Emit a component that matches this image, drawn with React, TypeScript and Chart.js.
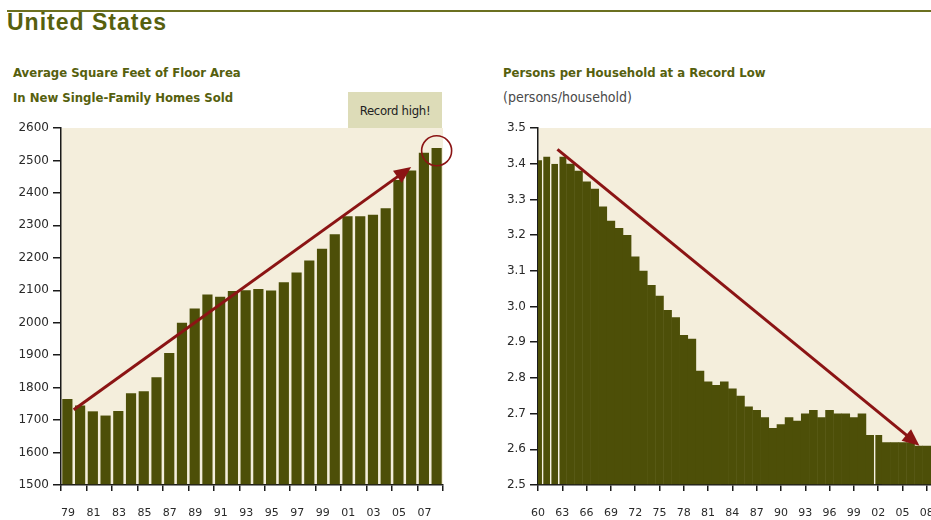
import React, { useEffect, useRef } from 'react';
import { Chart, registerables } from 'chart.js';

Chart.register(...registerables);

// ---------- Data: left chart (average square feet, new single-family homes sold) ----------
const floorYears = [
  1979, 1980, 1981, 1982, 1983, 1984, 1985, 1986, 1987, 1988,
  1989, 1990, 1991, 1992, 1993, 1994, 1995, 1996, 1997, 1998,
  1999, 2000, 2001, 2002, 2003, 2004, 2005, 2006, 2007, 2008,
];
const floorArea = [
  1765, 1745, 1727, 1714, 1728, 1783, 1789, 1832, 1907, 2000,
  2044, 2087, 2080, 2098, 2100, 2104, 2099, 2125, 2155, 2192,
  2228, 2273, 2328, 2328, 2333, 2353, 2440, 2469, 2524, 2538,
];
const floorXTickLabels = ['79', '81', '83', '85', '87', '89', '91', '93', '95', '97', '99', '01', '03', '05', '07'];
const floorYTicks = [1500, 1600, 1700, 1800, 1900, 2000, 2100, 2200, 2300, 2400, 2500, 2600];

// ---------- Data: right chart (persons per household) ----------
const hhYears = [
  1960, 1961, 1962, 1963, 1964, 1965, 1966, 1967, 1968, 1969,
  1970, 1971, 1972, 1973, 1974, 1975, 1976, 1977, 1978, 1979,
  1980, 1981, 1982, 1983, 1984, 1985, 1986, 1987, 1988, 1989,
  1990, 1991, 1992, 1993, 1994, 1995, 1996, 1997, 1998, 1999,
  2000, 2001, 2002, 2003, 2004, 2005, 2006, 2007, 2008,
];
const hhSize = [
  3.41, 3.42, 3.40, 3.42, 3.40, 3.38, 3.35, 3.33, 3.28, 3.24,
  3.22, 3.20, 3.14, 3.10, 3.06, 3.03, 2.99, 2.97, 2.92, 2.91,
  2.82, 2.79, 2.78, 2.79, 2.77, 2.75, 2.72, 2.71, 2.69, 2.66,
  2.67, 2.69, 2.68, 2.70, 2.71, 2.69, 2.71, 2.70, 2.70, 2.69,
  2.70, 2.64, 2.64, 2.62, 2.62, 2.62, 2.62, 2.61, 2.61,
];
const hhXTickYears = [1960, 1963, 1966, 1969, 1972, 1975, 1978, 1981, 1984, 1987, 1990, 1993, 1996, 1999, 2002, 2005, 2008];
const hhXTickLabels = ['60', '63', '66', '69', '72', '75', '78', '81', '84', '87', '90', '93', '96', '99', '02', '05', '08'];
const hhYTicks = [2.5, 2.6, 2.7, 2.8, 2.9, 3.0, 3.1, 3.2, 3.3, 3.4, 3.5];
const hhGapYears = [1961, 1962, 1963, 2002];

// ---------- Annotations (data units) ----------
const leftArrow = { x0: 1979.5, y0: 1732, x1: 2006, y1: 2480 };
const leftCircle = { x: 2008, y: 2530 };
const rightArrow = { x0: 1962.4, y0: 3.44, x1: 2007.1, y1: 2.61 };

// ---------- Styles ----------
const OLIVE_BAR = '#4d4f08';
const CREAM = '#f4eedc';
const RED = '#8b1414';
const AXIS = '#1a1a1a';
const TITLE_OLIVE = '#56600e';
const NARROW = '"Liberation Sans Narrow", "Arial Narrow", "DejaVu Sans Condensed", "DejaVu Sans", sans-serif';
const TICK_FONT = '"DejaVu Sans", Verdana, sans-serif';

type Arrow = { x0: number; y0: number; x1: number; y1: number };

function annotationPlugin(arrow: Arrow, circle?: { x: number; y: number }) {
  return {
    id: 'annot',
    beforeDraw(chart: any) {
      const { ctx, chartArea } = chart;
      ctx.save();
      ctx.fillStyle = CREAM;
      ctx.fillRect(chartArea.left, chartArea.top, chartArea.right - chartArea.left, chartArea.bottom - chartArea.top);
      ctx.restore();
    },
    afterDatasetsDraw(chart: any) {
      const { ctx } = chart;
      const xs = chart.scales.x;
      const ys = chart.scales.y;
      const px0 = xs.getPixelForValue(arrow.x0);
      const py0 = ys.getPixelForValue(arrow.y0);
      const px1 = xs.getPixelForValue(arrow.x1);
      const py1 = ys.getPixelForValue(arrow.y1);
      const dx = px1 - px0;
      const dy = py1 - py0;
      const len = Math.hypot(dx, dy);
      const ux = dx / len;
      const uy = dy / len;
      const headL = 17;
      const headW = 15;
      ctx.save();
      ctx.strokeStyle = RED;
      ctx.fillStyle = RED;
      ctx.lineWidth = 3;
      ctx.lineCap = 'butt';
      ctx.beginPath();
      ctx.moveTo(px0, py0);
      ctx.lineTo(px1 - ux * headL * 0.8, py1 - uy * headL * 0.8);
      ctx.stroke();
      const bx = px1 - ux * headL;
      const by = py1 - uy * headL;
      ctx.beginPath();
      ctx.moveTo(px1, py1);
      ctx.lineTo(bx - uy * headW / 2, by + ux * headW / 2);
      ctx.lineTo(bx + uy * headW / 2, by - ux * headW / 2);
      ctx.closePath();
      ctx.fill();
      if (circle) {
        const cx = xs.getPixelForValue(circle.x);
        const cy = ys.getPixelForValue(circle.y);
        ctx.lineWidth = 1.6;
        ctx.beginPath();
        ctx.arc(cx, cy, 15, 0, Math.PI * 2);
        ctx.stroke();
      }
      ctx.restore();
    },
  };
}

function yScale(min: number, max: number, ticks: number[], fmt: (v: number) => string, width: number) {
  return {
    type: 'linear',
    min,
    max,
    z: 1,
    afterBuildTicks: (s: any) => {
      s.ticks = ticks.map((v) => ({ value: v }));
    },
    afterFit: (s: any) => {
      s.width = width;
    },
    ticks: {
      callback: (v: any) => fmt(Number(v)),
      color: '#2a2a2a',
      font: { family: TICK_FONT, size: 12 },
      padding: 4,
      autoSkip: false,
    },
    grid: { drawOnChartArea: false, tickLength: 8, color: AXIS, lineWidth: 1.5 },
    border: { display: true, color: AXIS, width: 1.5 },
  };
}

function xScale(min: number, max: number, tickValues: number[], labels: string[], labelOffset: number) {
  return {
    type: 'linear',
    min,
    max,
    offset: false,
    z: 1,
    afterBuildTicks: (s: any) => {
      s.ticks = tickValues.map((v) => ({ value: v }));
    },
    afterFit: (s: any) => {
      s.height = 35;
    },
    ticks: {
      callback: (_v: any, i: number) => labels[i] ?? '',
      color: '#2a2a2a',
      font: { family: TICK_FONT, size: 11 },
      padding: 16,
      labelOffset,
      autoSkip: false,
      maxRotation: 0,
      minRotation: 0,
    },
    grid: { drawOnChartArea: false, offset: false, tickLength: 6, color: AXIS, lineWidth: 1.5 },
    border: { display: true, color: AXIS, width: 1.5 },
  };
}

function FloorChart() {
  const ref = useRef<HTMLCanvasElement | null>(null);
  useEffect(() => {
    if (!ref.current) return;
    const tickVals = [...floorXTickLabels.map((_, i) => floorYears[0] - 0.5 + 2 * i), floorYears[floorYears.length - 1] + 0.5];
    const chart = new Chart(ref.current, {
      type: 'bar',
      data: {
        datasets: [
          {
            data: floorYears.map((yr, i) => ({ x: yr, y: floorArea[i] })) as any,
            backgroundColor: OLIVE_BAR,
            borderWidth: 0,
            barPercentage: 0.8,
            categoryPercentage: 1,
            base: 1500,
            clip: 0,
          } as any,
        ],
      },
      options: {
        responsive: false,
        animation: false,
        devicePixelRatio: 1,
        layout: { padding: { left: 0, top: 128, right: 27, bottom: 0 } },
        plugins: { legend: { display: false }, tooltip: { enabled: false } },
        scales: {
          x: xScale(floorYears[0] - 0.5, floorYears[floorYears.length - 1] + 0.5, tickVals, floorXTickLabels, 7) as any,
          y: yScale(1500, 2600, floorYTicks, (v) => String(v), 61) as any,
        },
      },
      plugins: [annotationPlugin(leftArrow, leftCircle)],
    });
    return () => chart.destroy();
  }, []);
  return (
    <canvas
      ref={ref}
      width={470}
      height={520}
      style={{ position: 'absolute', left: 0, top: 0, width: 470, height: 520 }}
    />
  );
}

function HouseholdChart() {
  const ref = useRef<HTMLCanvasElement | null>(null);
  useEffect(() => {
    if (!ref.current) return;
    const chart = new Chart(ref.current, {
      type: 'bar',
      data: {
        datasets: [
          {
            data: hhYears.map((yr, i) => ({ x: yr, y: hhSize[i] })) as any,
            backgroundColor: OLIVE_BAR,
            borderColor: '#f7f2e2',
            borderSkipped: false,
            borderWidth: (c: any) => (hhGapYears.includes(hhYears[c.dataIndex]) ? { left: 1.5, right: 0, top: 0, bottom: 0 } : 0),
            barPercentage: 1.06,
            categoryPercentage: 1,
            base: 2.5,
            clip: 0,
          } as any,
        ],
      },
      options: {
        responsive: false,
        animation: false,
        devicePixelRatio: 1,
        layout: { padding: { left: 0, top: 128, right: 13, bottom: 0 } },
        plugins: { legend: { display: false }, tooltip: { enabled: false } },
        scales: {
          x: xScale(hhYears[0], hhYears[hhYears.length - 1] + 1, hhXTickYears, hhXTickLabels, 0) as any,
          y: yScale(2.5, 3.5, hhYTicks, (v) => v.toFixed(1), 68) as any,
        },
      },
      plugins: [annotationPlugin(rightArrow)],
    });
    return () => chart.destroy();
  }, []);
  return (
    <canvas
      ref={ref}
      width={480}
      height={520}
      style={{ position: 'absolute', left: 470, top: 0, width: 480, height: 520 }}
    />
  );
}

export default function App() {
  const sub: React.CSSProperties = {
    position: 'absolute',
    fontFamily: NARROW,
    fontWeight: 'bold',
    fontSize: 13,
    lineHeight: '13px',
    color: TITLE_OLIVE,
    whiteSpace: 'nowrap',
  };
  return (
    <div
      style={{
        position: 'absolute',
        left: 0,
        top: 0,
        width: 931,
        height: 520,
        overflow: 'hidden',
        background: '#ffffff',
      }}
    >
      <div style={{ position: 'absolute', left: 7, top: 10, width: 924, height: 2, background: '#6b7020' }} />
      <div
        style={{
          position: 'absolute',
          left: 7,
          top: 11,
          fontFamily: '"Liberation Sans", Arial, sans-serif',
          fontWeight: 'bold',
          fontSize: 23,
          lineHeight: '23px',
          letterSpacing: 1,
          color: TITLE_OLIVE,
          whiteSpace: 'nowrap',
        }}
      >
        United States
      </div>
      <div style={{ ...sub, left: 13, top: 66 }}>Average Square Feet of Floor Area</div>
      <div style={{ ...sub, left: 13, top: 91 }}>In New Single-Family Homes Sold</div>
      <div style={{ ...sub, left: 503, top: 66 }}>Persons per Household at a Record Low</div>
      <div style={{ ...sub, left: 503, top: 91, fontWeight: 'normal', fontSize: 14, color: '#4a4a4a' }}>(persons/household)</div>

      <FloorChart />
      <HouseholdChart />

      <div
        style={{
          position: 'absolute',
          left: 348,
          top: 92,
          width: 94,
          height: 36,
          background: '#dddcb8',
          display: 'flex',
          alignItems: 'center',
          justifyContent: 'center',
          fontFamily: NARROW,
          fontSize: 13,
          letterSpacing: -0.3,
          color: '#222',
          whiteSpace: 'nowrap',
        }}
      >
        Record high!
      </div>
    </div>
  );
}
